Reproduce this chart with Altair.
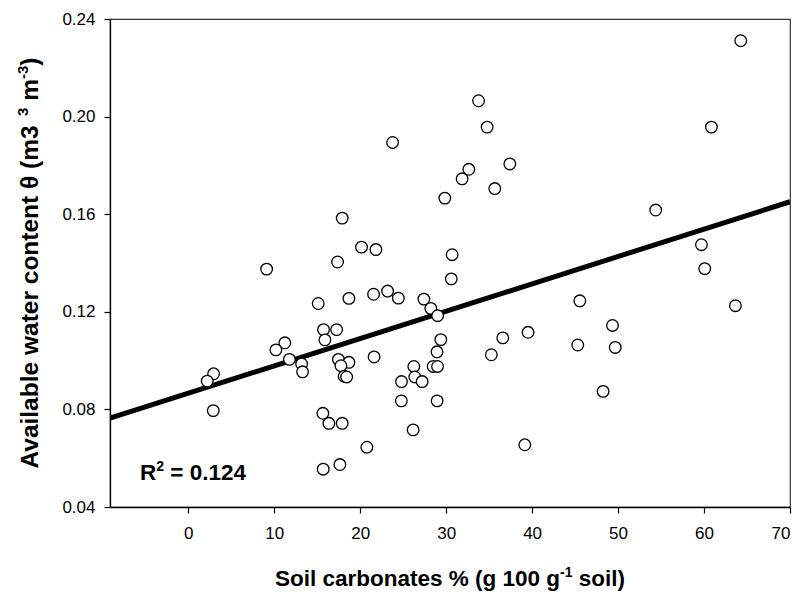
import altair as alt
import pandas as pd

# ---- data ----
carbonates = [64.27, 33.77, 34.77, 60.86, 23.77, 37.41, 32.64, 31.86, 35.66, 29.85,
              54.38, 17.91, 59.70, 20.16, 21.83, 30.70, 17.37, 9.12, 60.08, 30.60,
              23.19, 21.56, 18.69, 24.44, 27.41, 45.55, 15.12, 63.65, 28.22, 29.01,
              49.35, 15.74, 17.26, 39.53, 36.59, 15.90, 29.38, 11.24, 45.31, 49.67,
              10.20, 28.94, 35.26, 21.62, 11.77, 17.47, 18.69, 17.76, 18.14, 18.43,
              13.19, 26.24, 28.49, 29.00, 13.30, 2.95, 26.36, 2.21, 24.81, 27.21,
              48.26, 24.79, 28.95, 2.91, 15.66, 16.36, 17.91, 26.16, 39.15, 20.78,
              17.64, 15.70]
water = [0.2311, 0.2065, 0.1957, 0.1957, 0.1894, 0.1806, 0.1784, 0.1745, 0.1705, 0.1666,
         0.1617, 0.1584, 0.1475, 0.1465, 0.1455, 0.1434, 0.1404, 0.1375, 0.1377, 0.1335,
         0.1285, 0.1272, 0.1255, 0.1256, 0.1252, 0.1245, 0.1234, 0.1225, 0.1214, 0.1184,
         0.1144, 0.1127, 0.1127, 0.1116, 0.1093, 0.1085, 0.1086, 0.1073, 0.1064, 0.1054,
         0.1044, 0.1036, 0.1024, 0.1015, 0.1005, 0.1005, 0.0993, 0.0979, 0.0936, 0.0933,
         0.0986, 0.0976, 0.0976, 0.0976, 0.0954, 0.0946, 0.0933, 0.0916, 0.0914, 0.0914,
         0.0874, 0.0835, 0.0835, 0.0795, 0.0784, 0.0743, 0.0743, 0.0716, 0.0655, 0.0645,
         0.0574, 0.0555]
fit_x = [-9.1, 70.0]
fit_y = [0.0764, 0.1651]
x_ticks = [0, 10, 20, 30, 40, 50, 60, 70]
y_ticks = [0.04, 0.08, 0.12, 0.16, 0.20, 0.24]
x_domain = [-9.1, 70]
y_domain = [0.04, 0.24]

FONT = "Liberation Sans"
# Arial / Liberation Sans Bold advance widths (1/1000 em)
WID = {' ': 278, '(': 333, ')': 333, '%': 889, '-': 333, '.': 278, '=': 584,
       'A': 722, 'R': 722, 'S': 667, 'a': 556, 'b': 611, 'c': 556, 'e': 556,
       'g': 611, 'i': 278, 'l': 278, 'm': 889, 'n': 611, 'o': 611, 'r': 389,
       's': 556, 't': 333, 'v': 556, 'w': 778, 'θ': 611}


def tw(s, size):
    return sum(WID.get(c, 556) for c in s) * size / 1000.0


def txt(s, x, y, size, angle=0):
    return alt.Chart(alt.Data(values=[{"k": 1}])).mark_text(
        text=s.strip(), font=FONT, fontSize=size, fontWeight="bold", align="left",
        baseline="alphabetic", angle=angle, color="black"
    ).encode(x=alt.value(x), y=alt.value(y))


def lead(s, size):
    # width of leading spaces (SVG collapses them, so we offset manually)
    n = len(s) - len(s.lstrip(' '))
    return n * WID[' '] * size / 1000.0


pts = pd.DataFrame({"c": carbonates, "w": water})
fit = pd.DataFrame({"c": fit_x, "w": fit_y})

xs = alt.Scale(domain=x_domain, nice=False, zero=False)
ys = alt.Scale(domain=y_domain, nice=False, zero=False)

axis_common = dict(title=None, grid=False, labelFont=FONT, labelFontSize=17,
                   labelColor="black", tickColor="black", domainColor="black",
                   tickSize=6, tickWidth=1.2, domainWidth=1.3)

line = alt.Chart(fit).mark_line(color="black", strokeWidth=5, clip=True).encode(
    x=alt.X("c:Q", scale=xs, axis=alt.Axis(values=x_ticks, labelPadding=12, **axis_common)),
    y=alt.Y("w:Q", scale=ys, axis=alt.Axis(values=y_ticks, format=".2f", labelPadding=9, **axis_common)),
)

points = alt.Chart(pts).mark_circle(
    size=135, color="white", stroke="black", strokeWidth=1.3, opacity=1
).encode(x=alt.X("c:Q", scale=xs), y=alt.Y("w:Q", scale=ys))

layers = [line, points]


def run(pieces, main, sup, raise_by):
    """Return list of (text, offset_along, is_sup, size) and total length."""
    out = []
    pos = 0.0
    for s, is_sup in pieces:
        size = sup if is_sup else main
        pos += lead(s, size)
        core = s.strip()
        out.append((core, pos, is_sup, size))
        pos += tw(core, size)
        pos += (len(s) - len(s.rstrip(' '))) * WID[' '] * size / 1000.0
    return out, pos


# x title with superscript
xm, xsp = 22.5, 14
items, tot = run([("Soil carbonates % (g 100 g", False), ("-1", True), (" soil)", False)], xm, xsp, 9)
x0 = 340 - tot / 2
base = 567
for core, off, is_sup, size in items:
    layers.append(txt(core, x0 + off, base - (9 if is_sup else 0), size))

# y title (rotated) with superscripts
ym, ysp = 24.5, 15
items, tot = run([("Available water content θ (m3 ", False), ("3", True), (" m", False),
                  ("-3", True), (")", False)], ym, ysp, 10)
ystart = 244 + tot / 2
bx = -72
for core, off, is_sup, size in items:
    layers.append(txt(core, bx - (10 if is_sup else 0), ystart - off, size, angle=270))

# R^2 annotation
rm, rsp = 22.5, 14
items, tot = run([("R", False), ("2", True), (" = 0.124", False)], rm, rsp, 9)
for core, off, is_sup, size in items:
    layers.append(txt(core, 30 + off, 461 - (9 if is_sup else 0), size))

chart = alt.layer(*layers).properties(
    width=680, height=488,
    autosize=alt.AutoSizeParams(type="none"),
    padding={"left": 110, "top": 19, "right": 13, "bottom": 90},
    background="white",
).configure_view(stroke="#333333", strokeWidth=1.2)

chart.save("out.html", embed_options={"renderer": "svg", "actions": False})
